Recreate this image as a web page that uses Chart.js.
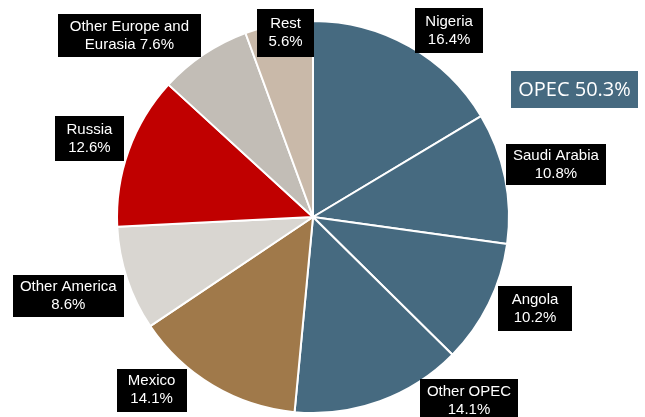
<!DOCTYPE html>
<html>
<head>
<meta charset="utf-8">
<script src="https://cdn.jsdelivr.net/npm/chart.js@4"></script>
<style>
  html, body { margin: 0; padding: 0; background: #fff; }
  canvas { display: block; }
</style>
</head>
<body>
<canvas id="pie" width="645" height="417"></canvas>
<script>
// Chart data
const categories = ['Nigeria', 'Saudi Arabia', 'Angola', 'Other OPEC', 'Mexico',
    'Other America', 'Russia', 'Other Europe and\nEurasia', 'Rest'];
const shares = [16.4, 10.8, 10.2, 14.1, 14.1, 8.6, 12.6, 7.6, 5.6];
const sliceColors = ['#466a80', '#466a80', '#466a80', '#466a80', '#a0794a',
    '#d9d6d1', '#c00000', '#c2bdb6', '#c9b9a9'];
const opecShare = 50.3;

// Label placement: angle shift (deg) from slice middle, distance as fraction of radius, box w, box h
const labelPlacement = [
    [6.6, 1.178, 68, 45],
    [-0.7, 1.268, 100, 41],
    [-3.8, 1.226, 74, 45],
    [-20.3, 1.231, 98, 44],
    [12.2, 1.208, 70, 43],
    [0.5, 1.312, 111, 42],
    [-0.45, 1.209, 69, 45],
    [-11.5, 1.317, 143, 43],
    [1.6, 0.949, 57, 48]
];

function labelLines(name, value) {
    const pct = value.toFixed(1) + '%';
    const lines = name.split('\n');
    if (lines.length > 1) {
        lines[lines.length - 1] += ' ' + pct;
    } else {
        lines.push(pct);
    }
    return lines;
}

const labelPlugin = {
    id: 'sliceLabels',
    afterDraw(chart) {
        const ctx = chart.ctx;
        const arcs = chart.getDatasetMeta(0).data;
        ctx.save();
        ctx.font = '15px "Liberation Sans", Arial, sans-serif';
        ctx.textAlign = 'center';
        ctx.textBaseline = 'middle';
        arcs.forEach((arc, i) => {
            const p = arc.getProps(['x', 'y', 'startAngle', 'endAngle', 'outerRadius'], true);
            const [shift, k, w, h] = labelPlacement[i];
            const a = (p.startAngle + p.endAngle) / 2 + shift * Math.PI / 180;
            const cx = p.x + Math.cos(a) * p.outerRadius * k;
            const cy = p.y + Math.sin(a) * p.outerRadius * k;
            ctx.fillStyle = '#000';
            ctx.fillRect(Math.round(cx - w / 2), Math.round(cy - h / 2), w, h);
            ctx.fillStyle = '#fff';
            const lines = labelLines(categories[i], shares[i]);
            lines.forEach((line, j) => {
                ctx.fillText(line, cx, cy + (j - (lines.length - 1) / 2) * 18);
            });
        });

        // OPEC total box
        const bw = 127, bh = 37;
        const bx = chart.width - 7 - bw, by = 71;
        ctx.fillStyle = '#466a80';
        ctx.fillRect(bx, by, bw, bh);
        ctx.fillStyle = '#fff';
        ctx.font = '20px "Open Sans", sans-serif';
        ctx.fillText('OPEC ' + opecShare.toFixed(1) + '%', bx + bw / 2, by + bh / 2 + 1);
        ctx.restore();
    }
};

new Chart(document.getElementById('pie'), {
    type: 'pie',
    data: {
        labels: categories,
        datasets: [{
            data: shares,
            backgroundColor: sliceColors,
            borderColor: '#ffffff',
            borderWidth: 2,
            hoverBorderWidth: 2
        }]
    },
    options: {
        responsive: false,
        animation: false,
        layout: { padding: { top: 20, bottom: 3, left: 0, right: 19 } },
        plugins: {
            legend: { display: false },
            tooltip: { enabled: false }
        }
    },
    plugins: [labelPlugin]
});
</script>
</body>
</html>
